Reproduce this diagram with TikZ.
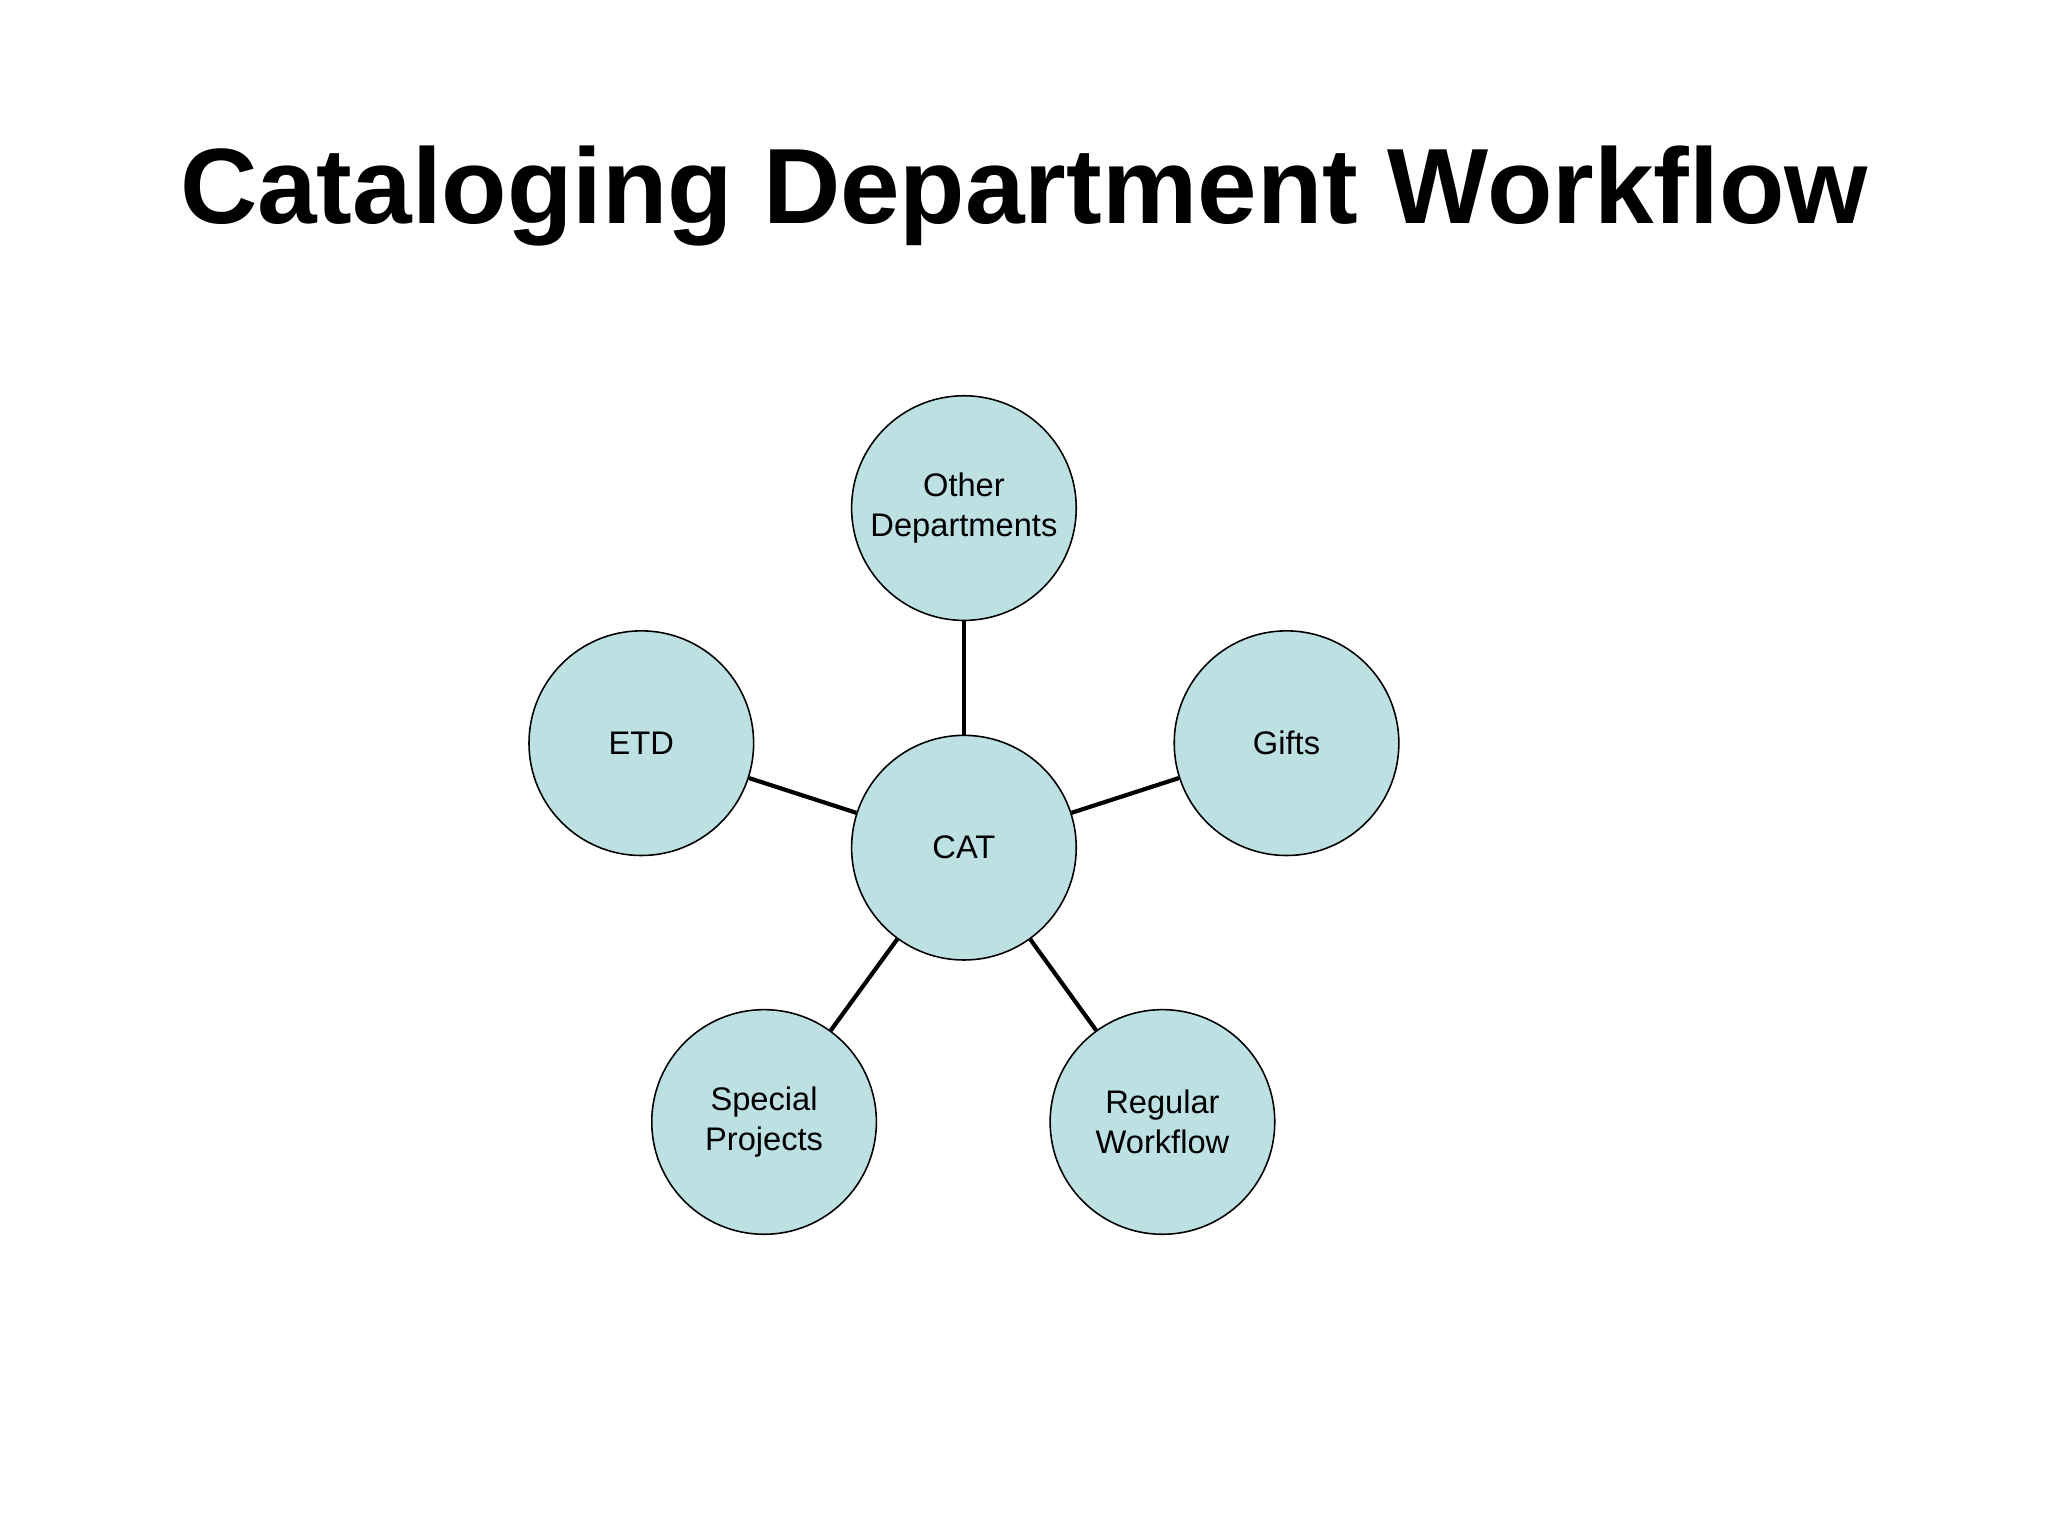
\documentclass[tikz,border=0pt]{standalone}
\usepackage{fontspec}
\setmainfont{Liberation Sans}
\definecolor{cfill}{HTML}{BDE0E3}
\begin{document}
\begin{tikzpicture}[x=0.5pt,y=-0.5pt,
  bub/.style={circle,draw=black,line width=0.6pt,fill=cfill,minimum size=86pt,inner sep=0pt,align=center,font=\fontsize{12.5}{15.5}\selectfont},
  link/.style={line width=1.6pt}]
\useasboundingbox (0,0) rectangle (1568,1176);
\node[font=\fontsize{41}{48}\selectfont\bfseries] (title) at (784,150) {Cataloging Department Workflow};
\node[bub] (cat) at (738,649) {CAT};
\node[bub] (od) at (738,389) {Other\\Departments};
\node[bub] (etd) at (491,569) {ETD};
\node[bub] (gifts) at (985,569) {Gifts};
\node[bub] (sp) at (585,859) {Special\\Projects};
\node[bub] (rw) at (890,859) {Regular\\Workflow};
\foreach \n in {od,etd,gifts,sp,rw} \draw[link] (cat) -- (\n);
\end{tikzpicture}
\end{document}
